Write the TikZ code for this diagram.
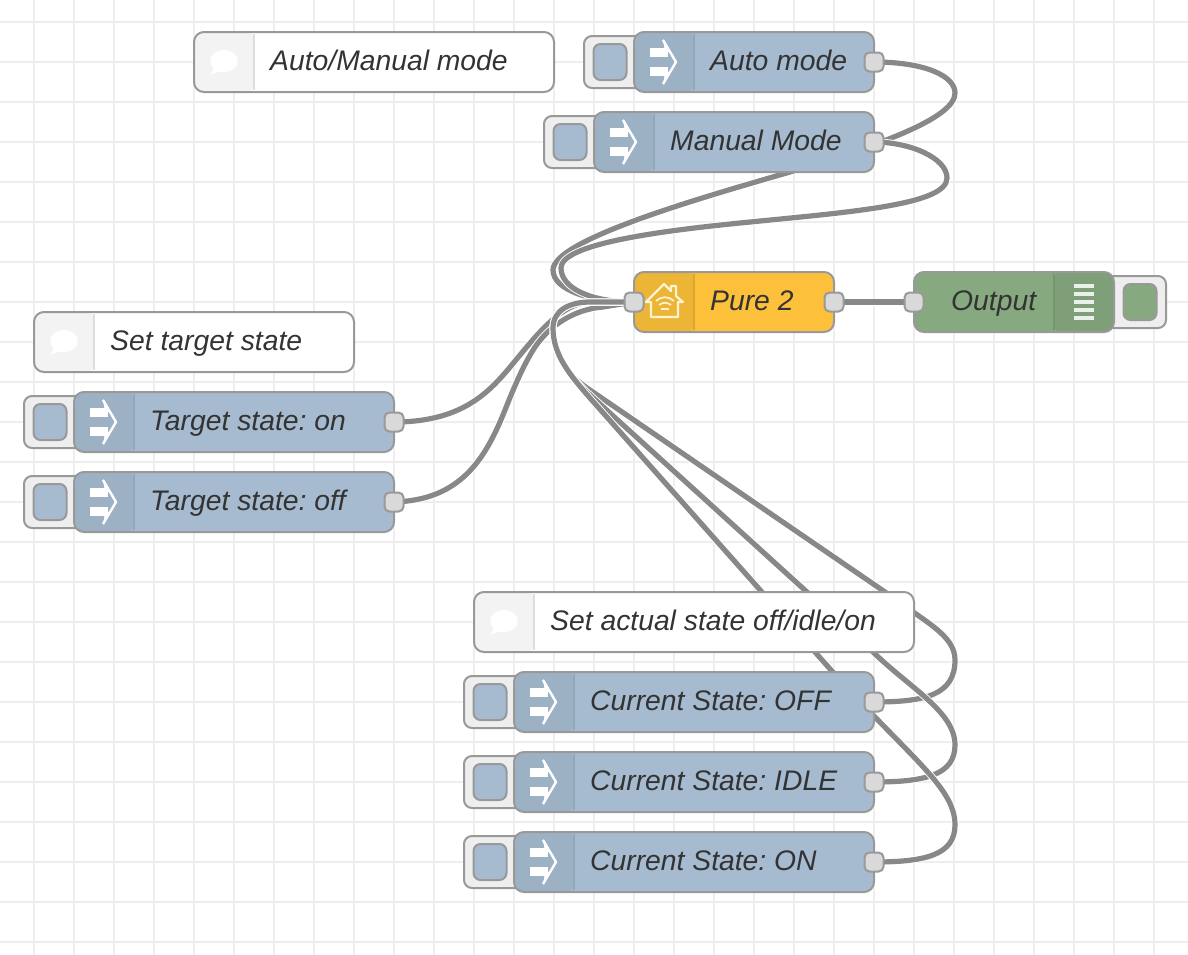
\documentclass[tikz,border=0pt]{standalone}
\usepackage{fontspec}
\setmainfont{Liberation Sans}
\usetikzlibrary{positioning,backgrounds}
\definecolor{gridgray}{HTML}{EEEEEE}
\definecolor{wiregray}{HTML}{888888}
\definecolor{edgegray}{HTML}{999999}
\definecolor{portgray}{HTML}{D9D9D9}
\definecolor{tabgray}{HTML}{EEEEEE}
\definecolor{textgray}{HTML}{333333}
\definecolor{injectblue}{HTML}{A6BBCF}
\definecolor{injectzone}{HTML}{9DB1C5}
\definecolor{injectsep}{HTML}{95A8BA}
\definecolor{pureyellow}{HTML}{FDC03A}
\definecolor{purezone}{HTML}{ECB536}
\definecolor{puresep}{HTML}{DBA632}
\definecolor{debuggreen}{HTML}{87A980}
\definecolor{debugzone}{HTML}{7F9F78}
\definecolor{debugsep}{HTML}{779670}
\definecolor{commentzone}{HTML}{F3F3F3}
\definecolor{commentsep}{HTML}{DDDDDD}
\definecolor{housecream}{HTML}{FFF3D2}
\tikzset{
  gridline/.style={draw=gridgray,line width=2pt},
  wire/.style={draw=wiregray,line width=5.2pt,preaction={draw=white,line width=7pt}},
  nodebody/.style={draw=edgegray,line width=2pt,rounded corners=10pt,minimum height=60pt,
    inner sep=0pt,outer sep=0pt,anchor=west},
  leftzone/.style 2 args={path picture={
    \fill[#1] ([xshift=-2pt,yshift=2pt]path picture bounding box.north west) rectangle
      ([xshift=60pt,yshift=-2pt]path picture bounding box.south west);
    \draw[#2,line width=2pt] ([xshift=60pt,yshift=-2pt]path picture bounding box.north west) --
      ([xshift=60pt,yshift=2pt]path picture bounding box.south west);}},
  rightzone/.style 2 args={path picture={
    \fill[#1] ([xshift=2pt,yshift=2pt]path picture bounding box.north east) rectangle
      ([xshift=-60pt,yshift=-2pt]path picture bounding box.south east);
    \draw[#2,line width=2pt] ([xshift=-60pt,yshift=-2pt]path picture bounding box.north east) --
      ([xshift=-60pt,yshift=2pt]path picture bounding box.south east);}},
  injectbody/.style={nodebody,fill=injectblue,leftzone={injectzone}{injectsep}},
  purebody/.style={nodebody,fill=pureyellow,leftzone={purezone}{puresep}},
  debugbody/.style={nodebody,fill=debuggreen,rightzone={debugzone}{debugsep}},
  commentbody/.style={nodebody,fill=white,leftzone={commentzone}{commentsep}},
  nodetext/.style={inner sep=0pt,text=textgray,text height=22pt,text depth=6pt,
    font=\fontsize{28.3}{34}\selectfont\itshape\frenchspacing},
  port/.style={draw=edgegray,fill=portgray,line width=2pt,rounded corners=5pt,
    minimum width=19pt,minimum height=19pt,inner sep=0pt,outer sep=0pt},
  tabbox/.style={draw=edgegray,fill=tabgray,line width=2pt,rounded corners=8pt,
    minimum width=60pt,minimum height=52pt,inner sep=0pt,outer sep=0pt},
  pushbox/.style={draw=edgegray,line width=2pt,rounded corners=7pt,
    minimum width=33pt,minimum height=36pt,inner sep=0pt,outer sep=0pt},
  injecticon/.pic={
    \fill[white] (-14,-14) rectangle (4,-5);
    \fill[white] (-14,5) rectangle (4,14);
    \draw[white,line width=2.4pt,line join=round] (-1,-22) -- (12,0) -- (-1,22);
    \fill[white] (-1,-23) -- (7,-10) -- (1,-10) -- cycle;
    \fill[white] (-1,23) -- (7,10) -- (1,10) -- cycle;
  },
  bubbleicon/.pic={
    \fill[white] (0,-1) ellipse (14pt and 11pt);
    \fill[white] (-14,13) -- (-8,4) -- (-2,8) -- cycle;
  },
  houseicon/.pic={
    \draw[housecream,line width=2.2pt,line join=round] (-13,15) -- (-13,0) -- (-18,0) -- (0,-18) --
      (7,-11) -- (7,-16) -- (12,-16) -- (12,-6) -- (19,0) -- (14,0) -- (14,15) -- cycle;
    \draw[housecream,line width=1.7pt] (-8,-1) .. controls (-3,-6) and (5,-6) .. (10,-1);
    \draw[housecream,line width=1.7pt] (-5,3) .. controls (-1,0) and (3,0) .. (7,3);
    \draw[housecream,line width=1.7pt] (-3,7) -- (5,7);
  },
  listicon/.pic={
    \foreach \bary in {-16,-8,0,8,16}
      \fill[white,opacity=.85] (-10,\bary-1.6) rectangle (10,\bary+1.6);
  }
}
\begin{document}
\begin{tikzpicture}[x=1pt,y=-1pt]
  \useasboundingbox (0,0) rectangle (1188,954);

  % comments
  \node[commentbody,minimum width=360pt] (modebody) at (194,62) {};
  \pic at ([xshift=30pt]modebody.west) {bubbleicon};
  \node[nodetext,right=76pt of modebody.west] (modetext) {Auto/Manual mode};
  \node[commentbody,minimum width=320pt] (targetbody) at (34,342) {};
  \pic at ([xshift=30pt]targetbody.west) {bubbleicon};
  \node[nodetext,right=76pt of targetbody.west] (targettext) {Set target state};
  \node[commentbody,minimum width=440pt] (actualbody) at (474,622) {};
  \pic at ([xshift=30pt]actualbody.west) {bubbleicon};
  \node[nodetext,right=76pt of actualbody.west] (actualtext) {Set actual state off/idle/on};

  % auto and manual
  \node[tabbox,anchor=west] (autotab) at (584,62) {};
  \node[pushbox,fill=injectblue] (autopush) at (610,62) {};
  \node[injectbody,minimum width=240pt] (autobody) at (634,62) {};
  \pic at ([xshift=30pt]autobody.west) {injecticon};
  \node[nodetext,right=76pt of autobody.west] (autotext) {Auto mode};
  \node[port] (autoport) at (autobody.east) {};

  \node[tabbox,anchor=west] (manualtab) at (544,142) {};
  \node[pushbox,fill=injectblue] (manualpush) at (570,142) {};
  \node[injectbody,minimum width=280pt] (manualbody) at (594,142) {};
  \pic at ([xshift=30pt]manualbody.west) {injecticon};
  \node[nodetext,right=76pt of manualbody.west] (manualtext) {Manual Mode};
  \node[port] (manualport) at (manualbody.east) {};

  % accessory and output
  \node[purebody,minimum width=200pt] (purebox) at (634,302) {};
  \pic at ([xshift=30pt]purebox.west) {houseicon};
  \node[nodetext,right=76pt of purebox.west] (puretext) {Pure 2};
  \node[port] (purein) at (purebox.west) {};
  \node[port] (pureout) at (purebox.east) {};

  \node[tabbox,anchor=east] (outputtab) at (1166,302) {};
  \node[pushbox,fill=debuggreen] (outputpush) at (1140,302) {};
  \node[debugbody,minimum width=200pt] (outputbody) at (914,302) {};
  \pic at ([xshift=-30pt]outputbody.east) {listicon};
  \node[nodetext,right=37pt of outputbody.west] (outputtext) {Output};
  \node[port] (outputin) at (outputbody.west) {};

  % target state
  \node[tabbox,anchor=west] (ontab) at (24,422) {};
  \node[pushbox,fill=injectblue] (onpush) at (50,422) {};
  \node[injectbody,minimum width=320pt] (onbody) at (74,422) {};
  \pic at ([xshift=30pt]onbody.west) {injecticon};
  \node[nodetext,right=76pt of onbody.west] (ontext) {Target state: on};
  \node[port] (onport) at (onbody.east) {};

  \node[tabbox,anchor=west] (offtab) at (24,502) {};
  \node[pushbox,fill=injectblue] (offpush) at (50,502) {};
  \node[injectbody,minimum width=320pt] (offbody) at (74,502) {};
  \pic at ([xshift=30pt]offbody.west) {injecticon};
  \node[nodetext,right=76pt of offbody.west] (offtext) {Target state: off};
  \node[port] (offport) at (offbody.east) {};

  % current state
  \node[tabbox,anchor=west] (cofftab) at (464,702) {};
  \node[pushbox,fill=injectblue] (coffpush) at (490,702) {};
  \node[injectbody,minimum width=360pt] (coffbody) at (514,702) {};
  \pic at ([xshift=30pt]coffbody.west) {injecticon};
  \node[nodetext,right=76pt of coffbody.west] (cofftext) {Current State: OFF};
  \node[port] (coffport) at (coffbody.east) {};

  \node[tabbox,anchor=west] (cidletab) at (464,782) {};
  \node[pushbox,fill=injectblue] (cidlepush) at (490,782) {};
  \node[injectbody,minimum width=360pt] (cidlebody) at (514,782) {};
  \pic at ([xshift=30pt]cidlebody.west) {injecticon};
  \node[nodetext,right=76pt of cidlebody.west] (cidletext) {Current State: IDLE};
  \node[port] (cidleport) at (cidlebody.east) {};

  \node[tabbox,anchor=west] (contab) at (464,862) {};
  \node[pushbox,fill=injectblue] (conpush) at (490,862) {};
  \node[injectbody,minimum width=360pt] (conbody) at (514,862) {};
  \pic at ([xshift=30pt]conbody.west) {injecticon};
  \node[nodetext,right=76pt of conbody.west] (context) {Current State: ON};
  \node[port] (conport) at (conbody.east) {};

  \begin{scope}[on background layer]
    \fill[white] (0,0) rectangle (1188,954);
    \begin{scope}
      \clip (0,0) rectangle (1188,954);
      \draw[gridline,step=40pt,shift={(-6,-18)}] (0,0) grid (1200,1000);
    \end{scope}
    % wires
    \draw[wire] (autoport.center) .. controls (925,62) and (955,76) .. (955,93)
      .. controls (955,118) and (880,145) .. (790,172)
      .. controls (700,198) and (553,240) .. (553,270)
      .. controls (553,290) and (590,302) .. (purein.center);
    \draw[wire] (manualport.center) .. controls (910,142) and (947,158) .. (947,178)
      .. controls (947,205) and (850,212) .. (740,223)
      .. controls (650,232) and (561,245) .. (561,268)
      .. controls (561,288) and (590,302) .. (purein.center);
    \draw[wire] (pureout.center) -- (outputin.center);
    \draw[wire] (onport.center) .. controls (470,422) and (495,385) .. (520,355)
      .. controls (530,343) and (540,331) .. (550,322)
      .. controls (565,308) and (580,302) .. (590,302) -- (purein.center);
    \draw[wire] (offport.center) .. controls (460,500) and (485,460) .. (505,410)
      .. controls (520,372) and (528,358) .. (535,347)
      .. controls (550,325) and (575,309) .. (603,307) -- (purein.center);
    \draw[wire] (coffport.center) .. controls (925,702) and (955,695) .. (955,660)
      .. controls (955,635) and (925,622) .. (885,592)
      -- (590,390) .. controls (575,380) and (553,362) .. (553,328)
      .. controls (553,310) and (570,302) .. (590,302) -- (purein.center);
    \draw[wire] (cidleport.center) .. controls (925,782) and (955,775) .. (955,745)
      .. controls (955,712) and (910,688) .. (873,652)
      -- (600,404) .. controls (580,386) and (553,362) .. (553,328)
      .. controls (553,310) and (570,302) .. (590,302) -- (purein.center);
    \draw[wire] (conport.center) .. controls (925,862) and (955,855) .. (955,825)
      .. controls (955,785) and (905,755) .. (815,652)
      -- (590,398) .. controls (570,375) and (553,355) .. (553,328)
      .. controls (553,310) and (570,302) .. (590,302) -- (purein.center);
  \end{scope}
\end{tikzpicture}
\end{document}
